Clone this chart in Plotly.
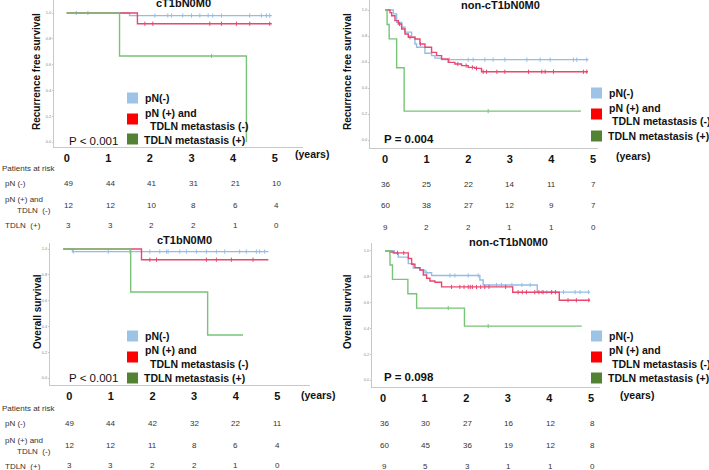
import plotly.graph_objects as go

W, H = 709, 470
def PX(x): return x / W
def PY(y): return 1 - y / H

ARIAL = "Liberation Sans, Arial, sans-serif"

# ---------------- data ----------------
years = [0, 1, 2, 3, 4, 5]
year_labels = ["0", "1", "2", "3", "4", "5"]
surv_ticks = [0, 0.2, 0.4, 0.6, 0.8, 1.0]
surv_tick_labels = ["0.0", "0.2", "0.4", "0.6", "0.8", "1.0"]

panel_titles = ["cT1bN0M0", "non-cT1bN0M0", "cT1bN0M0", "non-cT1bN0M0"]
panel_ylabels = ["Recurrence free survival", "Recurrence free survival", "Overall survival", "Overall survival"]
p_values = ["P < 0.001", "P = 0.004", "P < 0.001", "P = 0.098"]
legend_labels = ["pN(-)", "pN (+) and", "TDLN metastasis (-)", "TDLN metastasis (+)"]
risk_row_labels = ["pN (-)", "pN (+) and", "TDLN  (-)", "TDLN  (+)"]

# RFS, cT1bN0M0
rfs_c_neg_t = [0, 1.51, 4.93]
rfs_c_neg_s = [1.0, 0.98, 0.98]
rfs_c_neg_cens = [0.23, 0.51, 2.12, 2.43, 2.52, 2.79, 3.0, 3.2, 3.4, 3.51, 3.72, 4.4, 4.68, 4.8, 4.88]
rfs_c_pos_t = [0, 1.70, 4.93]
rfs_c_pos_s = [1.0, 0.917, 0.917]
rfs_c_pos_cens = [1.88, 2.07, 3.44, 3.72, 4.08, 4.4, 4.88]
rfs_c_tdln_t = [0, 1.27, 4.32]
rfs_c_tdln_s = [1.0, 0.667, 0.0]
rfs_c_tdln_cens = [3.48]

# RFS, non-cT1bN0M0
rfs_n_neg_t = [0, 0.2, 0.28, 0.4, 0.48, 0.64, 0.72, 0.76, 0.96, 1.12, 1.2, 1.36, 4.89]
rfs_n_neg_s = [1.0, 0.97, 0.905, 0.867, 0.83, 0.79, 0.738, 0.713, 0.667, 0.649, 0.63, 0.618, 0.618]
rfs_n_neg_cens = [1.55, 2.0, 2.12, 2.4, 2.6, 2.88, 3.41, 3.73, 3.97, 4.53, 4.61, 4.85]
rfs_n_pos_t = [0, 0.12, 0.16, 0.24, 0.32, 0.4, 0.48, 0.56, 0.72, 0.84, 0.96, 1.12, 1.24, 1.36,
               1.52, 1.68, 1.84, 2.0, 2.16, 2.32, 4.88]
rfs_n_pos_s = [1.0, 0.98, 0.956, 0.918, 0.892, 0.854, 0.815, 0.79, 0.777, 0.738, 0.713, 0.674, 0.649,
               0.623, 0.597, 0.585, 0.572, 0.559, 0.551, 0.525, 0.525]
rfs_n_pos_cens = [0.35, 0.6, 0.85, 1.75, 1.95, 2.1, 2.2, 2.36, 2.44, 2.69, 2.88, 3.45, 3.77, 3.85, 4.05, 4.77, 4.85]
rfs_n_tdln_t = [0, 0.05, 0.1, 0.28, 0.46, 4.71]
rfs_n_tdln_s = [1.0, 0.889, 0.778, 0.556, 0.222, 0.222]
rfs_n_tdln_cens = [2.48]

# OS, cT1bN0M0
os_c_neg_t = [0, 0.22, 4.93]
os_c_neg_s = [1.0, 0.98, 0.98]
os_c_neg_cens = [0.24, 1.08, 1.6, 2.08, 2.32, 2.48, 2.52, 2.8, 2.96, 3.2, 3.44, 3.68, 3.88, 4.24, 4.4, 4.64, 4.72, 4.84]
os_c_pos_t = [0, 1.88, 4.93]
os_c_pos_s = [1.0, 0.917, 0.917]
os_c_pos_cens = [2.08, 2.24, 3.44, 3.68, 4.04, 4.56]
os_c_tdln_t = [0, 1.62, 3.47, 4.32]
os_c_tdln_s = [1.0, 0.667, 0.333, 0.333]
os_c_tdln_cens = []

# OS, non-cT1bN0M0
os_n_neg_t = [0, 0.22, 0.32, 0.56, 0.68, 0.84, 0.96, 1.12, 2.28, 2.36, 3.66, 4.93]
os_n_neg_s = [1.0, 0.98, 0.95, 0.9, 0.866, 0.85, 0.83, 0.808, 0.773, 0.735, 0.68, 0.68]
os_n_neg_cens = [1.0, 1.56, 1.68, 2.0, 2.24, 2.68, 2.8, 3.05, 3.29, 3.49, 3.77, 3.89, 4.01, 4.29, 4.57, 4.69, 4.89]
os_n_pos_t = [0, 0.12, 0.2, 0.56, 0.64, 0.72, 0.84, 0.92, 1.0, 1.08, 1.2, 1.36, 3.07, 4.19, 4.93]
os_n_pos_s = [1.0, 0.99, 0.983, 0.94, 0.895, 0.869, 0.851, 0.812, 0.787, 0.766, 0.756, 0.72, 0.679, 0.617, 0.617]
os_n_pos_cens = [0.3, 0.45, 1.6, 1.8, 1.9, 2.0, 2.05, 2.1, 2.2, 2.3, 2.4, 2.5, 2.9,
                 3.2, 3.3, 3.4, 3.6, 3.7, 3.8, 4.0, 4.1, 4.4, 4.6, 4.9]
os_n_tdln_t = [0, 0.12, 0.18, 0.55, 0.76, 1.91, 4.73]
os_n_tdln_s = [1.0, 0.889, 0.778, 0.667, 0.556, 0.417, 0.417]
os_n_tdln_cens = [1.52, 2.48]

# numbers at risk
rfs_c_risk_neg = [49, 44, 41, 31, 21, 10]
rfs_c_risk_pos = [12, 12, 10, 8, 6, 4]
rfs_c_risk_tdln = [3, 3, 2, 2, 1, 0]
rfs_n_risk_neg = [36, 25, 22, 14, 11, 7]
rfs_n_risk_pos = [60, 38, 27, 12, 9, 7]
rfs_n_risk_tdln = [9, 2, 2, 1, 1, 0]
os_c_risk_neg = [49, 44, 42, 32, 22, 11]
os_c_risk_pos = [12, 12, 11, 8, 6, 4]
os_c_risk_tdln = [3, 3, 2, 2, 1, 0]
os_n_risk_neg = [36, 30, 27, 16, 12, 8]
os_n_risk_pos = [60, 45, 36, 19, 12, 8]
os_n_risk_tdln = [9, 5, 3, 1, 1, 0]

# ---------------- styles ----------------
LINE_COLORS = ["#93BDE8", "#E8476F", "#78C478"]
SQUARE_COLORS = ["#9DC3E6", "#FF0000", "#548235"]

panels = [
    dict(xd=(54, 303), x0=66.7, yd=(0, 147), y1=13.0, yu=129.0, tshift=0, rshift=2),
    dict(xd=(370, 598), x0=385.0, yd=(0, 148), y1=10.0, yu=130.0, tshift=0, rshift=0),
    dict(xd=(50, 310), x0=63.3, yd=(243, 385), y1=249.0, yu=129.0, tshift=6, rshift=6),
    dict(xd=(372, 600), x0=385.0, yd=(243, 387), y1=250.7, yu=129.3, tshift=-2, rshift=-1),
]
PXYR = 41.6

curves = [
    [(rfs_c_neg_t, rfs_c_neg_s, rfs_c_neg_cens), (rfs_c_pos_t, rfs_c_pos_s, rfs_c_pos_cens), (rfs_c_tdln_t, rfs_c_tdln_s, rfs_c_tdln_cens)],
    [(rfs_n_neg_t, rfs_n_neg_s, rfs_n_neg_cens), (rfs_n_pos_t, rfs_n_pos_s, rfs_n_pos_cens), (rfs_n_tdln_t, rfs_n_tdln_s, rfs_n_tdln_cens)],
    [(os_c_neg_t, os_c_neg_s, os_c_neg_cens), (os_c_pos_t, os_c_pos_s, os_c_pos_cens), (os_c_tdln_t, os_c_tdln_s, os_c_tdln_cens)],
    [(os_n_neg_t, os_n_neg_s, os_n_neg_cens), (os_n_pos_t, os_n_pos_s, os_n_pos_cens), (os_n_tdln_t, os_n_tdln_s, os_n_tdln_cens)],
]
risks = [
    [rfs_c_risk_neg, rfs_c_risk_pos, rfs_c_risk_tdln],
    [rfs_n_risk_neg, rfs_n_risk_pos, rfs_n_risk_tdln],
    [os_c_risk_neg, os_c_risk_pos, os_c_risk_tdln],
    [os_n_risk_neg, os_n_risk_pos, os_n_risk_tdln],
]

def step_value(t, s, x):
    v = s[0]
    for ti, si in zip(t, s):
        if ti <= x:
            v = si
    return v

fig = go.Figure()
layout = dict(width=W, height=H, margin=dict(l=0, r=0, t=0, b=0),
              paper_bgcolor="white", plot_bgcolor="white", showlegend=False)
annotations = []
shapes = []

for i, p in enumerate(panels):
    n = "" if i == 0 else str(i + 1)
    xa, ya = "x" + n, "y" + n
    xmin = (p["xd"][0] - p["x0"]) / PXYR
    xmax = (p["xd"][1] - p["x0"]) / PXYR
    ymax = 1 + (p["y1"] - p["yd"][0]) / p["yu"]
    ymin = 1 - (p["yd"][1] - p["y1"]) / p["yu"]
    layout["xaxis" + n] = dict(
        domain=[PX(p["xd"][0]), PX(p["xd"][1])], range=[xmin, xmax], anchor=ya,
        showline=True, linecolor="#C8C8C8", linewidth=1, showgrid=False, zeroline=False,
        tickmode="array", tickvals=years, ticktext=year_labels, ticks="",
        tickfont=dict(family=ARIAL, size=11, color="#111", weight="bold"),
        ticklabelshift=p["tshift"], ticklabelstandoff=1, fixedrange=True)
    layout["yaxis" + n] = dict(
        domain=[PY(p["yd"][1]), PY(p["yd"][0])], range=[ymin, ymax], anchor=xa,
        showline=True, linecolor="#C8C8C8", linewidth=1, showgrid=False, zeroline=False,
        tickmode="array", tickvals=surv_ticks, ticktext=surv_tick_labels,
        ticks="outside", ticklen=1, tickcolor="#C8C8C8",
        tickfont=dict(family=ARIAL, size=4, color="#888"), fixedrange=True)

    for k, (t, s, cens) in enumerate(curves[i]):
        fig.add_trace(go.Scatter(x=t, y=s, mode="lines", line=dict(color=LINE_COLORS[k], width=1.4, shape="hv"),
                                 xaxis=xa, yaxis=ya, hoverinfo="skip"))
        if cens:
            fig.add_trace(go.Scatter(x=cens, y=[step_value(t, s, c) for c in cens], mode="markers",
                                     marker=dict(symbol="line-ns", size=3, line=dict(color=LINE_COLORS[k], width=1)),
                                     xaxis=xa, yaxis=ya, hoverinfo="skip"))

    ry = [[183, 205, 226], [185, 205, 227], [423, 445, 465], [423, 445, 466]][i]
    for r, row in enumerate(risks[i]):
        for yr, val in zip(years, row):
            annotations.append(dict(x=yr, y=PY(ry[r]), xref=xa, yref="paper", text=str(val), showarrow=False,
                                    xshift=p["rshift"], font=dict(family=ARIAL, size=8, color="#333"),
                                    xanchor="center", yanchor="middle"))

# titles
title_pos = [(183, 3), (500, 5), (184, 240), (508, 242)]
for (x, y), t in zip(title_pos, panel_titles):
    annotations.append(dict(x=PX(x), y=PY(y), xref="paper", yref="paper", text="<b>%s</b>" % t, showarrow=False,
                            font=dict(family=ARIAL, size=11, color="#111"), xanchor="center", yanchor="middle"))
# y-axis titles
ylab_pos = [(36, 72), (347, 72), (37, 312), (347, 312)]
for (x, y), t in zip(ylab_pos, panel_ylabels):
    annotations.append(dict(x=PX(x), y=PY(y), xref="paper", yref="paper", text="<b>%s</b>" % t, showarrow=False,
                            textangle=-90, font=dict(family=ARIAL, size=10, color="#111"),
                            xanchor="center", yanchor="middle"))
# p values
p_pos = [(67, 141, False), (382, 139, True), (67, 378, False), (382, 377, True)]
for (x, y, b), t in zip(p_pos, p_values):
    annotations.append(dict(x=PX(x), y=PY(y), xref="paper", yref="paper",
                            text=("<b>%s</b>" % t) if b else t, showarrow=False,
                            font=dict(family=ARIAL, size=11.5, color="#111"), xanchor="left", yanchor="middle"))
# (years)
yrs_pos = [(293, 154), (614, 156), (299, 395), (618, 395)]
for x, y in yrs_pos:
    annotations.append(dict(x=PX(x), y=PY(y), xref="paper", yref="paper", text="<b>(years)</b>", showarrow=False,
                            font=dict(family=ARIAL, size=10.5, color="#111"), xanchor="left", yanchor="middle"))

# legends
legends = [
    dict(sq_x=127, sq_y=[98, 119, 139], txt=[(143, 98), (143, 113), (148, 126), (142, 140)]),
    dict(sq_x=591, sq_y=[93, 114, 136], txt=[(607, 93), (607, 108), (610, 121), (606, 136)]),
    dict(sq_x=127, sq_y=[336, 357, 378], txt=[(143, 336), (143, 350), (148, 364), (142, 378)]),
    dict(sq_x=591, sq_y=[336, 357, 378], txt=[(607, 336), (607, 350), (610, 364), (606, 378)]),
]
for lg in legends:
    for k, cy in enumerate(lg["sq_y"]):
        shapes.append(dict(type="rect", xref="paper", yref="paper",
                           x0=PX(lg["sq_x"]), x1=PX(lg["sq_x"] + 11), y0=PY(cy + 5.5), y1=PY(cy - 5.5),
                           fillcolor=SQUARE_COLORS[k], line=dict(width=0)))
    for (x, y), t in zip(lg["txt"], legend_labels):
        annotations.append(dict(x=PX(x), y=PY(y), xref="paper", yref="paper", text="<b>%s</b>" % t, showarrow=False,
                                font=dict(family=ARIAL, size=10.5, color="#111"), xanchor="left", yanchor="middle"))

# risk table row labels
for base in (0, 240):
    annotations.append(dict(x=PX(0), y=PY(168 + base), xref="paper", yref="paper", text="Patients at risk",
                            showarrow=False, font=dict(family=ARIAL, size=8, color="#333"),
                            xanchor="left", yanchor="middle"))
    rows = [(3, 183 + base, risk_row_labels[0]), (3, 200 + base, risk_row_labels[1]),
            (15, 211 + base, risk_row_labels[2]), (3, 226 + base, risk_row_labels[3])]
    for x, y, t in rows:
        annotations.append(dict(x=PX(x), y=PY(y), xref="paper", yref="paper", text=t, showarrow=False,
                                font=dict(family=ARIAL, size=8, color="#333"), xanchor="left", yanchor="middle"))

layout["annotations"] = annotations
layout["shapes"] = shapes
fig.update_layout(**layout)
fig.write_html("out.html", config={"displayModeBar": False, "staticPlot": True},
               post_script="document.body.style.margin='0';document.body.style.overflow='hidden';")
